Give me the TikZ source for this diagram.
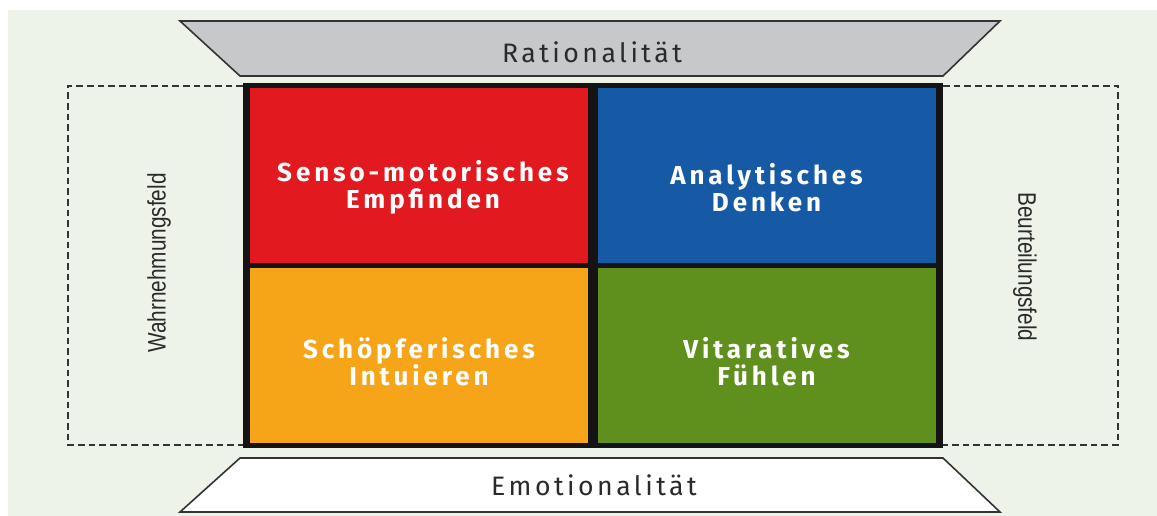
\documentclass[tikz,border=0pt]{standalone}
\usepackage{fontspec}
\usepackage{xcolor}
\usepackage{tikz}
\usetikzlibrary{positioning}

\setmainfont{Fira Sans}
\newfontfamily\cellfont[LetterSpace=15]{Fira Sans}
\newfontfamily\axisfont[LetterSpace=13]{Fira Sans}
\newfontfamily\sidefont[FakeStretch=0.82]{Liberation Sans}

\definecolor{bgcol}{HTML}{EEF3E9}
\definecolor{redcell}{HTML}{E2191F}
\definecolor{bluecell}{HTML}{1659A5}
\definecolor{orangecell}{HTML}{F6A519}
\definecolor{greencell}{HTML}{5F8F1D}
\definecolor{trapgray}{HTML}{C6C8CA}
\definecolor{linegray}{HTML}{333333}
\definecolor{textgray}{HTML}{2A2A2A}
\definecolor{gridblack}{HTML}{141414}

\begin{document}
\begin{tikzpicture}[x=0.75pt, y=-0.75pt,
    cell/.style={rectangle, inner sep=0pt, minimum width=253.5pt, minimum height=131.25pt},
    celltext/.style={align=center, text=white, font=\cellfont\bfseries\fontsize{19.5}{20.25}\selectfont},
    axis/.style={draw=linegray, line width=1.2pt},
    axistext/.style={text=textgray, font=\axisfont\fontsize{20}{22}\selectfont},
    field/.style={draw=linegray, line width=1.5pt, dash pattern=on 5pt off 3pt},
    fieldtext/.style={text=textgray, font=\sidefont\fontsize{19}{21}\selectfont}
]
\useasboundingbox (0,0) rectangle (1157,516);
\fill[bgcol] (8,10) rectangle (1157,516);

% Rationality / emotionality bars
\draw[axis, fill=trapgray] (180,21) -- (1000,21) -- (943,76) -- (240,76) -- cycle;
\node[axistext] (ratio) at (592,52) {Rationalität};
\draw[axis, fill=white] (240,458) -- (943,458) -- (1000,512) -- (180,512) -- cycle;
\node[axistext] (emo) at (594,485) {Emotionalität};

% Fields
\draw[field] (243,86) -- (68,86) -- (68,445) -- (243,445);
\draw[field] (943,86) -- (1118,86) -- (1118,445) -- (943,445);
\node[fieldtext, rotate=90] (wahr) at (159,263) {Wahrnehmungsfeld};
\node[fieldtext, rotate=-90] (beurt) at (1025,267) {Beurteilungsfeld};

% Grid
\fill[gridblack] (243,83) rectangle (943,448);
\node[cell, fill=redcell] (senso) at (419,175.5) {};
\node[cell, fill=bluecell] (analyt) at (766.5,175.5) {};
\node[cell, fill=orangecell] (schoepf) at (419,355.5) {};
\node[cell, fill=greencell] (vitar) at (766.5,355.5) {};

% Cell texts
\node[celltext] (sensotext) at ([xshift=3pt, yshift=-9pt]senso.center) {Senso-motorisches\\Empfinden};
\node[celltext] (analyttext) at ([yshift=-9pt]analyt.center) {Analytisches\\Denken};
\node[celltext] (schoepftext) at ([yshift=-5pt]schoepf.center) {Schöpferisches\\Intuieren};
\node[celltext] (vitartext) at ([yshift=-5pt]vitar.center) {Vitaratives\\Fühlen};

\end{tikzpicture}
\end{document}
